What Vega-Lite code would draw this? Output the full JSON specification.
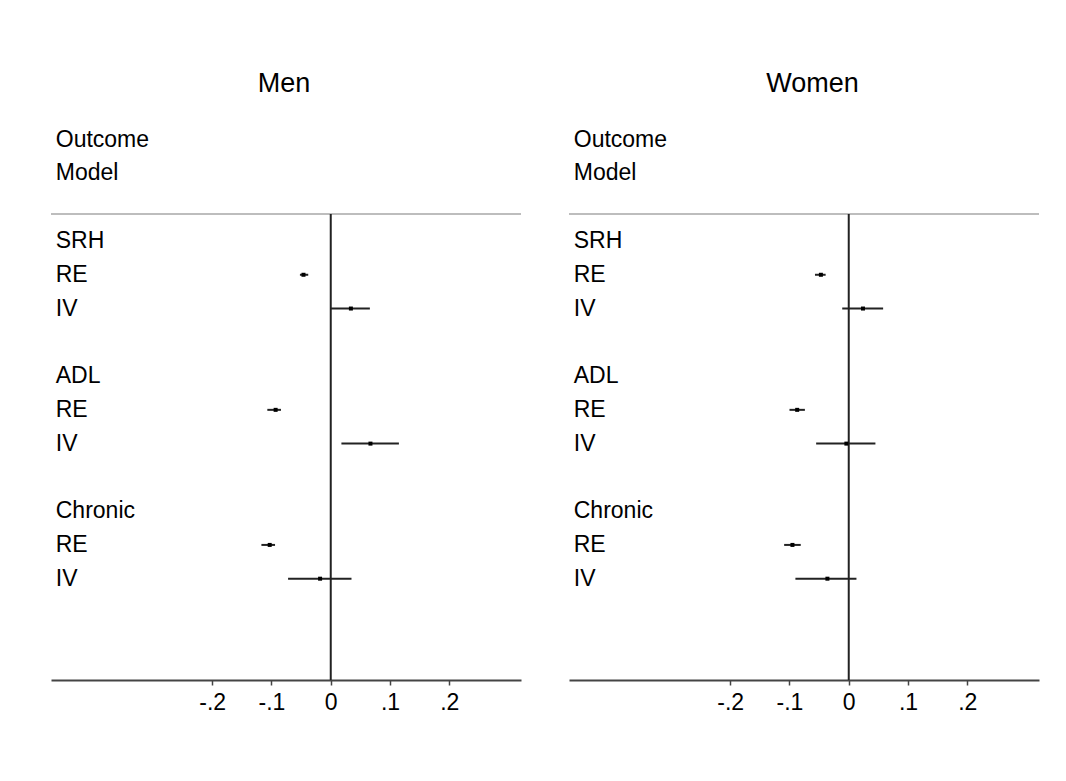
{
  "$schema": "https://vega.github.io/schema/vega-lite/v6.json",
  "background": "white",
  "padding": {"left": 50, "top": 60, "right": 20, "bottom": 10},
  "spacing": 46,
  "config": {
    "view": {"stroke": null},
    "font": "Liberation Sans",
    "axisX": {"grid": false, "domainColor": "#444", "domainWidth": 2, "tickColor": "#444", "tickWidth": 1.5, "tickSize": 5, "labelFontSize": 23, "labelColor": "black", "labelFont": "Liberation Sans", "labelPadding": 6, "title": null}
  },
  "datasets": {
    "est": [
      {"sex": "Men", "outcome": "SRH", "model": "RE", "row": 2, "est": -0.046, "lo": -0.052, "hi": -0.038},
      {"sex": "Men", "outcome": "SRH", "model": "IV", "row": 3, "est": 0.034, "lo": 0.0, "hi": 0.066},
      {"sex": "Men", "outcome": "ADL", "model": "RE", "row": 6, "est": -0.093, "lo": -0.107, "hi": -0.084},
      {"sex": "Men", "outcome": "ADL", "model": "IV", "row": 7, "est": 0.067, "lo": 0.018, "hi": 0.115},
      {"sex": "Men", "outcome": "Chronic", "model": "RE", "row": 10, "est": -0.103, "lo": -0.117, "hi": -0.094},
      {"sex": "Men", "outcome": "Chronic", "model": "IV", "row": 11, "est": -0.018, "lo": -0.072, "hi": 0.035},
      {"sex": "Women", "outcome": "SRH", "model": "RE", "row": 2, "est": -0.047, "lo": -0.057, "hi": -0.039},
      {"sex": "Women", "outcome": "SRH", "model": "IV", "row": 3, "est": 0.024, "lo": -0.011, "hi": 0.058},
      {"sex": "Women", "outcome": "ADL", "model": "RE", "row": 6, "est": -0.087, "lo": -0.100, "hi": -0.074},
      {"sex": "Women", "outcome": "ADL", "model": "IV", "row": 7, "est": -0.004, "lo": -0.055, "hi": 0.045},
      {"sex": "Women", "outcome": "Chronic", "model": "RE", "row": 10, "est": -0.095, "lo": -0.109, "hi": -0.081},
      {"sex": "Women", "outcome": "Chronic", "model": "IV", "row": 11, "est": -0.036, "lo": -0.090, "hi": 0.013}
    ],
    "labels": [
      {"row": -2, "label": "Outcome"},
      {"row": -1, "label": "Model"},
      {"row": 1, "label": "SRH"},
      {"row": 2, "label": "RE"},
      {"row": 3, "label": "IV"},
      {"row": 5, "label": "ADL"},
      {"row": 6, "label": "RE"},
      {"row": 7, "label": "IV"},
      {"row": 9, "label": "Chronic"},
      {"row": 10, "label": "RE"},
      {"row": 11, "label": "IV"}
    ]
  },
  "hconcat": [
    {
      "width": 470,
      "height": 620,
      "layer": [
        {
          "data": {"values": [{}]},
          "mark": {"type": "rule", "color": "#bdbdbd", "strokeWidth": 2},
          "encoding": {
            "x": {"datum": -0.472, "type": "quantitative", "scale": {"domain": [-0.472, 0.321], "nice": false, "zero": false}},
            "x2": {"datum": 0.321},
            "y": {"datum": 0.2, "type": "quantitative", "scale": {"domain": [-4.36, 14], "reverse": true, "nice": false, "zero": false}, "axis": null}
          }
        },
        {
          "data": {"values": [{}]},
          "mark": {"type": "rule", "color": "#222", "strokeWidth": 2},
          "encoding": {
            "x": {"datum": 0, "type": "quantitative", "scale": {"domain": [-0.472, 0.321], "nice": false, "zero": false}},
            "y": {"datum": 0.2, "type": "quantitative", "scale": {"domain": [-4.36, 14], "reverse": true, "nice": false, "zero": false}, "axis": null},
            "y2": {"datum": 14}
          }
        },
        {
          "data": {"name": "est"},
          "transform": [{"filter": "datum.sex == 'Men'"}],
          "mark": {"type": "rule", "color": "#222", "strokeWidth": 2},
          "encoding": {
            "x": {"field": "lo", "type": "quantitative", "scale": {"domain": [-0.472, 0.321], "nice": false, "zero": false},
              "axis": {"values": [-0.2, -0.1, 0, 0.1, 0.2], "labelExpr": "datum.value == 0 ? '0' : (datum.value < 0 ? '-' : '') + '.' + format(abs(datum.value) * 10, '.0f')"}},
            "x2": {"field": "hi"},
            "y": {"field": "row", "type": "quantitative", "scale": {"domain": [-4.36, 14], "reverse": true, "nice": false, "zero": false}, "axis": null}
          }
        },
        {
          "data": {"name": "est"},
          "transform": [{"filter": "datum.sex == 'Men'"}],
          "mark": {"type": "point", "shape": "square", "filled": true, "size": 16, "color": "black", "opacity": 1},
          "encoding": {
            "x": {"field": "est", "type": "quantitative", "scale": {"domain": [-0.472, 0.321], "nice": false, "zero": false}},
            "y": {"field": "row", "type": "quantitative", "scale": {"domain": [-4.36, 14], "reverse": true, "nice": false, "zero": false}, "axis": null}
          }
        },
        {
          "data": {"name": "labels"},
          "mark": {"type": "text", "align": "left", "baseline": "middle", "fontSize": 23, "color": "black"},
          "encoding": {
            "x": {"datum": -0.464, "type": "quantitative", "scale": {"domain": [-0.472, 0.321], "nice": false, "zero": false}},
            "y": {"field": "row", "type": "quantitative", "scale": {"domain": [-4.36, 14], "reverse": true, "nice": false, "zero": false}, "axis": null},
            "text": {"field": "label"}
          }
        },
        {
          "data": {"values": [{}]},
          "mark": {"type": "text", "align": "center", "baseline": "middle", "fontSize": 27, "color": "black"},
          "encoding": {
            "x": {"datum": -0.079, "type": "quantitative", "scale": {"domain": [-0.472, 0.321], "nice": false, "zero": false}},
            "y": {"datum": -3.65, "type": "quantitative", "scale": {"domain": [-4.36, 14], "reverse": true, "nice": false, "zero": false}, "axis": null},
            "text": {"value": "Men"}
          }
        }
      ]
    },
    {
      "width": 470,
      "height": 620,
      "layer": [
        {
          "data": {"values": [{}]},
          "mark": {"type": "rule", "color": "#bdbdbd", "strokeWidth": 2},
          "encoding": {
            "x": {"datum": -0.472, "type": "quantitative", "scale": {"domain": [-0.472, 0.321], "nice": false, "zero": false}},
            "x2": {"datum": 0.321},
            "y": {"datum": 0.2, "type": "quantitative", "scale": {"domain": [-4.36, 14], "reverse": true, "nice": false, "zero": false}, "axis": null}
          }
        },
        {
          "data": {"values": [{}]},
          "mark": {"type": "rule", "color": "#222", "strokeWidth": 2},
          "encoding": {
            "x": {"datum": 0, "type": "quantitative", "scale": {"domain": [-0.472, 0.321], "nice": false, "zero": false}},
            "y": {"datum": 0.2, "type": "quantitative", "scale": {"domain": [-4.36, 14], "reverse": true, "nice": false, "zero": false}, "axis": null},
            "y2": {"datum": 14}
          }
        },
        {
          "data": {"name": "est"},
          "transform": [{"filter": "datum.sex == 'Women'"}],
          "mark": {"type": "rule", "color": "#222", "strokeWidth": 2},
          "encoding": {
            "x": {"field": "lo", "type": "quantitative", "scale": {"domain": [-0.472, 0.321], "nice": false, "zero": false},
              "axis": {"values": [-0.2, -0.1, 0, 0.1, 0.2], "labelExpr": "datum.value == 0 ? '0' : (datum.value < 0 ? '-' : '') + '.' + format(abs(datum.value) * 10, '.0f')"}},
            "x2": {"field": "hi"},
            "y": {"field": "row", "type": "quantitative", "scale": {"domain": [-4.36, 14], "reverse": true, "nice": false, "zero": false}, "axis": null}
          }
        },
        {
          "data": {"name": "est"},
          "transform": [{"filter": "datum.sex == 'Women'"}],
          "mark": {"type": "point", "shape": "square", "filled": true, "size": 16, "color": "black", "opacity": 1},
          "encoding": {
            "x": {"field": "est", "type": "quantitative", "scale": {"domain": [-0.472, 0.321], "nice": false, "zero": false}},
            "y": {"field": "row", "type": "quantitative", "scale": {"domain": [-4.36, 14], "reverse": true, "nice": false, "zero": false}, "axis": null}
          }
        },
        {
          "data": {"name": "labels"},
          "mark": {"type": "text", "align": "left", "baseline": "middle", "fontSize": 23, "color": "black"},
          "encoding": {
            "x": {"datum": -0.464, "type": "quantitative", "scale": {"domain": [-0.472, 0.321], "nice": false, "zero": false}},
            "y": {"field": "row", "type": "quantitative", "scale": {"domain": [-4.36, 14], "reverse": true, "nice": false, "zero": false}, "axis": null},
            "text": {"field": "label"}
          }
        },
        {
          "data": {"values": [{}]},
          "mark": {"type": "text", "align": "center", "baseline": "middle", "fontSize": 27, "color": "black"},
          "encoding": {
            "x": {"datum": -0.061, "type": "quantitative", "scale": {"domain": [-0.472, 0.321], "nice": false, "zero": false}},
            "y": {"datum": -3.65, "type": "quantitative", "scale": {"domain": [-4.36, 14], "reverse": true, "nice": false, "zero": false}, "axis": null},
            "text": {"value": "Women"}
          }
        }
      ]
    }
  ]
}
